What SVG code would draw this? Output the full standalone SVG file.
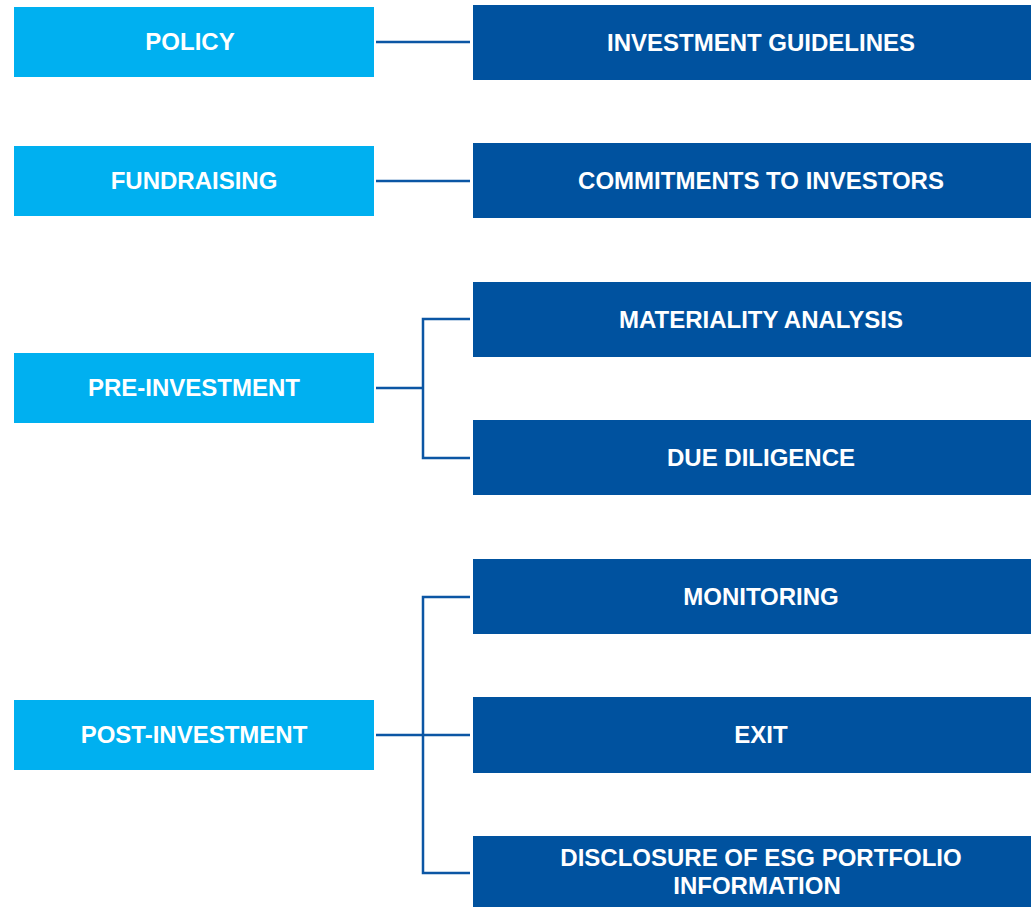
<svg xmlns="http://www.w3.org/2000/svg" width="1031" height="907" viewBox="0 0 1031 907">
<style>
.l{fill:#00B0F0}
.r{fill:#00529F}
.t{font-family:"Liberation Sans",Arial,sans-serif;font-weight:bold;font-size:24px;fill:#FFFFFF;text-anchor:middle}
.c{stroke:#0B56A4;stroke-width:2.5;fill:none}
</style>
<rect width="1031" height="907" fill="#FFFFFF"/>
<g id="connectors">
<line class="c" x1="376" y1="42" x2="470" y2="42"/>
<line class="c" x1="376" y1="181" x2="470" y2="181"/>
<line class="c" x1="376" y1="388" x2="423" y2="388"/>
<polyline class="c" points="470,319 423,319 423,458 470,458"/>
<line class="c" x1="376" y1="735" x2="470" y2="735"/>
<polyline class="c" points="470,597 423,597 423,873 470,873"/>
</g>
<g id="policy"><rect class="l" x="14" y="7" width="360" height="70"/><text class="t" x="190" y="50">POLICY</text></g>
<g id="fundraising"><rect class="l" x="14" y="146" width="360" height="70"/><text class="t" x="194" y="189">FUNDRAISING</text></g>
<g id="pre-investment"><rect class="l" x="14" y="353" width="360" height="70"/><text class="t" x="194" y="396">PRE-INVESTMENT</text></g>
<g id="post-investment"><rect class="l" x="14" y="700" width="360" height="70"/><text class="t" x="194" y="743">POST-INVESTMENT</text></g>
<g id="investment-guidelines"><rect class="r" x="473" y="5" width="580" height="75"/><text class="t" x="761" y="50.5">INVESTMENT GUIDELINES</text></g>
<g id="commitments"><rect class="r" x="473" y="143" width="580" height="75"/><text class="t" x="761" y="188.5">COMMITMENTS TO INVESTORS</text></g>
<g id="materiality"><rect class="r" x="473" y="282" width="580" height="75"/><text class="t" x="761" y="327.5">MATERIALITY ANALYSIS</text></g>
<g id="due-diligence"><rect class="r" x="473" y="420" width="580" height="75"/><text class="t" x="761" y="465.5">DUE DILIGENCE</text></g>
<g id="monitoring"><rect class="r" x="473" y="559" width="580" height="75"/><text class="t" x="761" y="604.5">MONITORING</text></g>
<g id="exit"><rect class="r" x="473" y="697" width="580" height="76"/><text class="t" x="761" y="743">EXIT</text></g>
<g id="disclosure"><rect class="r" x="473" y="836" width="580" height="80"/><text class="t" x="761" y="866">DISCLOSURE OF ESG PORTFOLIO</text><text class="t" x="757" y="894">INFORMATION</text></g>
</svg>
